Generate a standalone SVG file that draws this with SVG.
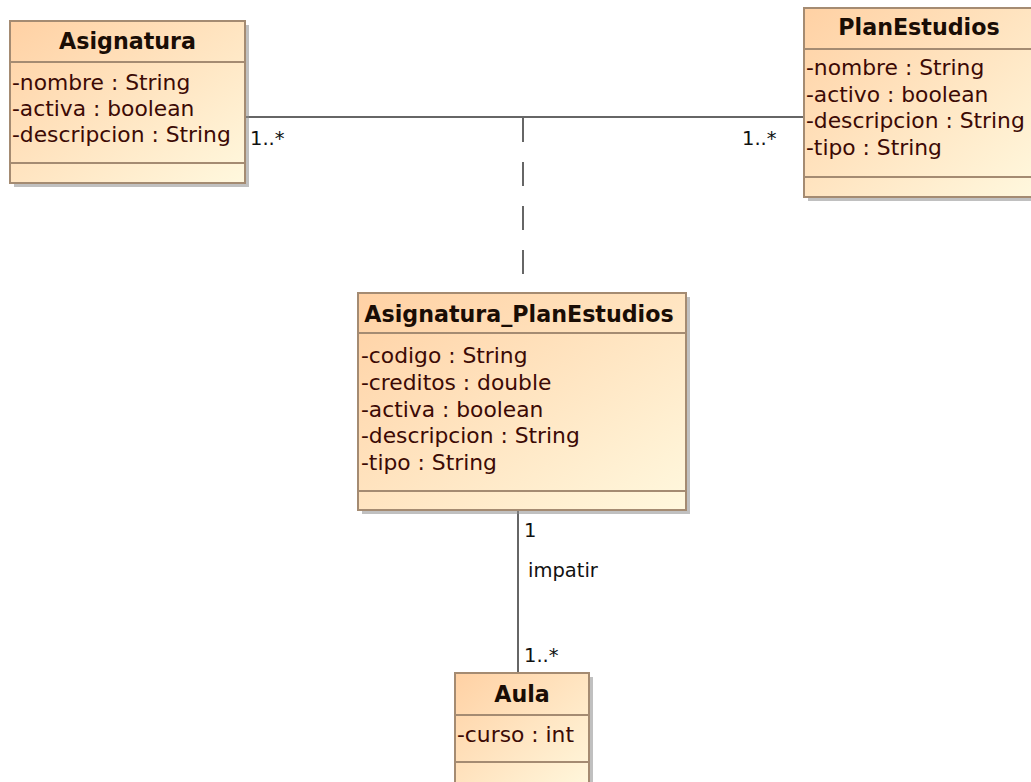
<svg xmlns="http://www.w3.org/2000/svg" width="1031" height="782" viewBox="0 0 1031 782">
<defs>
<linearGradient id="fill" x1="0" y1="0" x2="1" y2="1">
<stop offset="0" stop-color="#FFD1A4"/>
<stop offset="1" stop-color="#FFF8DE"/>
</linearGradient>
<style>
.shadow{fill:#8c8c8c;opacity:0.55}
.box{fill:url(#fill);stroke:#A48B72;stroke-width:2}
.div{stroke:#A48B72;stroke-width:2}
.hdr{font-family:"DejaVu Sans",Verdana,sans-serif;font-weight:bold;font-size:22.2px;fill:#1a0d05;text-anchor:middle}
.att{font-family:"DejaVu Sans",Verdana,sans-serif;font-size:21.8px;fill:#3c0a05}
.lbl{font-family:"DejaVu Sans",Verdana,sans-serif;font-size:19.5px;fill:#111}
.line{stroke:#666;stroke-width:2;fill:none}
</style>
</defs>
<rect width="1031" height="782" fill="#ffffff"/>

<g id="connectors">
<line class="line" x1="245" y1="117" x2="804" y2="117"/>
<line class="line" x1="523" y1="118" x2="523" y2="293" stroke-dasharray="24 20"/>
<line class="line" x1="518" y1="510" x2="518" y2="673"/>
<text class="lbl" x="250" y="145">1..*</text>
<text class="lbl" x="742" y="145">1..*</text>
<text class="lbl" x="524" y="537">1</text>
<text class="lbl" x="528" y="577">impatir</text>
<text class="lbl" x="524" y="662">1..*</text>
</g>

<g id="Asignatura">
<rect class="shadow" x="14" y="25" width="235" height="162"/>
<rect class="box" x="10" y="21" width="235" height="162"/>
<line class="div" x1="10" y1="62" x2="245" y2="62"/>
<line class="div" x1="10" y1="163" x2="245" y2="163"/>
<text class="hdr" x="127.5" y="49">Asignatura</text>
<text class="att" x="12" y="90">-nombre : String</text>
<text class="att" x="12" y="116">-activa : boolean</text>
<text class="att" x="12" y="142">-descripcion : String</text>
</g>

<g id="PlanEstudios">
<rect class="shadow" x="808" y="12" width="230" height="189"/>
<rect class="box" x="804" y="8" width="230" height="189"/>
<line class="div" x1="804" y1="49" x2="1034" y2="49"/>
<line class="div" x1="804" y1="177" x2="1034" y2="177"/>
<text class="hdr" x="919" y="35">PlanEstudios</text>
<text class="att" x="806" y="75">-nombre : String</text>
<text class="att" x="806" y="102">-activo : boolean</text>
<text class="att" x="806" y="128">-descripcion : String</text>
<text class="att" x="806" y="155">-tipo : String</text>
</g>

<g id="Asignatura_PlanEstudios">
<rect class="shadow" x="362" y="297" width="328" height="217"/>
<rect class="box" x="358" y="293" width="328" height="217"/>
<line class="div" x1="358" y1="333" x2="686" y2="333"/>
<line class="div" x1="358" y1="491" x2="686" y2="491"/>
<text class="hdr" x="519" y="322">Asignatura_PlanEstudios</text>
<text class="att" x="361" y="363">-codigo : String</text>
<text class="att" x="361" y="390">-creditos : double</text>
<text class="att" x="361" y="417">-activa : boolean</text>
<text class="att" x="361" y="443">-descripcion : String</text>
<text class="att" x="361" y="470">-tipo : String</text>
</g>

<g id="Aula">
<rect class="shadow" x="459" y="677" width="134" height="120"/>
<rect class="box" x="455" y="673" width="134" height="120"/>
<line class="div" x1="455" y1="715" x2="589" y2="715"/>
<line class="div" x1="455" y1="762" x2="589" y2="762"/>
<text class="hdr" x="522" y="702">Aula</text>
<text class="att" x="457" y="742">-curso : int</text>
</g>
</svg>
